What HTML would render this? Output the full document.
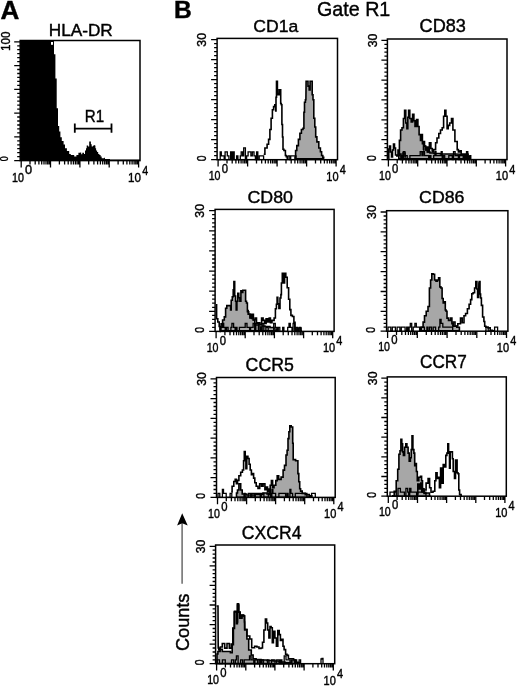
<!DOCTYPE html>
<html><head><meta charset="utf-8"><style>
html,body{margin:0;padding:0;background:#fff;width:520px;height:687px;overflow:hidden;font-family:"Liberation Sans", sans-serif;}
</style></head><body>
<svg width="520" height="687" viewBox="0 0 520 687" style="position:absolute;left:0;top:0;will-change:transform" font-family='"Liberation Sans", sans-serif'>
<rect width="520" height="687" fill="#fff"/>
<text transform="translate(0.45 18.60) scale(1.025 1)" font-size="25.44" font-weight="bold" stroke="#000" stroke-width="0.4">A</text>
<text transform="translate(173.95 18.30) scale(1.019 1)" font-size="24.13" font-weight="bold" stroke="#000" stroke-width="0.4">B</text>
<text transform="translate(317.01 15.90) scale(0.975 1)" font-size="20.20" font-weight="normal" stroke="#000" stroke-width="0.4">Gate R1</text>
<text transform="translate(48.79 36.30) scale(1.067 1)" font-size="16.13" font-weight="normal" stroke="#000" stroke-width="0.4">HLA-DR</text>
<text transform="translate(253.31 31.93) scale(1.013 1)" font-size="17.37" font-weight="normal" stroke="#000" stroke-width="0.4">CD1a</text>
<text transform="translate(419.58 32.13) scale(1.026 1)" font-size="17.66" font-weight="normal" stroke="#000" stroke-width="0.4">CD83</text>
<text transform="translate(247.39 202.53) scale(1.027 1)" font-size="17.37" font-weight="normal" stroke="#000" stroke-width="0.4">CD80</text>
<text transform="translate(419.10 203.13) scale(1.022 1)" font-size="17.37" font-weight="normal" stroke="#000" stroke-width="0.4">CD86</text>
<text transform="translate(245.60 370.93) scale(0.996 1)" font-size="17.80" font-weight="normal" stroke="#000" stroke-width="0.4">CCR5</text>
<text transform="translate(420.03 367.73) scale(0.974 1)" font-size="17.66" font-weight="normal" stroke="#000" stroke-width="0.4">CCR7</text>
<text transform="translate(241.80 538.62) scale(0.960 1)" font-size="18.36" font-weight="normal" stroke="#000" stroke-width="0.4">CXCR4</text>
<polygon points="20.2,40.5 54,40.5 54,54.3 55.4,54.3 55.4,78.6 56.7,78.6 56.7,108.3 58,108.3 58,126 59.2,126 59.2,131.6 60.4,131.6 60.4,137.2 61.8,137.2 61.8,140.9 63.6,140.9 63.6,144.6 65,144.6 65,148.3 66.9,148.3 66.9,151.1 69.2,151.1 69.2,154 70.8,154 70.8,155.1 74.2,155.1 74.2,156.6 76.4,156.6 76.4,155.1 78.4,155.1 78.4,152.8 80.2,152.8 80.2,152.4 81.2,152.4 81.2,154.3 82.3,154.3 82.3,152.8 84,152.8 84,153.9 85,153.9 85,150.5 86,150.5 86,148.2 86.7,148.2 86.7,145.5 88.1,145.5 88.1,146.6 89.2,146.6 89.2,141.6 90.9,141.6 90.9,144.3 91.7,144.3 91.7,146.6 92.9,146.6 92.9,145.8 93.8,145.8 93.8,145.1 94.6,145.1 94.6,145.5 95.4,145.5 95.4,148.2 96.1,148.2 96.1,150.5 97.1,150.5 97.1,152 98.2,152 98.2,153.9 99.4,153.9 99.4,155.1 100.6,155.1 100.6,156.6 101.7,156.6 101.7,158.2 104.2,158.2 104.2,157.8 105,157.8 105,158.9 110,158.9 110,159.4 140,159.6 140,160.6 20.2,160.6" fill="#000"/>
<rect x="51" y="42" width="2" height="2.8" fill="#fff"/>
<path d="M74.8 128.7H111.5M74.8 123.5V132.8M111.5 123.5V132.8" stroke="#000" stroke-width="1.8" fill="none"/>
<text transform="translate(84.86 122.10) scale(0.940 1)" font-size="16.13" font-weight="normal" stroke="#000" stroke-width="0.4">R1</text>
<polygon points="295,158.8 295,157 295.6,157 295.6,150.5 296.2,150.5 296.8,150.5 296.8,145.6 297.4,145.6 298.4,145.6 298.4,139.4 299.3,139.4 299.9,139.4 299.9,133.2 300.5,133.2 301.4,133.2 301.4,129.5 302.4,129.5 303,129.5 303,128.3 303.6,128.3 303.9,128.3 303.9,112.2 304.2,112.2 304.5,112.2 304.5,102.2 304.9,102.2 305.4,102.2 305.4,99.8 305.9,99.8 306.1,81.2 307.3,81.2 308,81.2 308,86.1 308.6,86.1 309.2,86.1 309.2,89.9 309.8,89.9 310.1,89.9 310.1,81.2 310.4,81.2 312,81.2 312.2,81.2 312.2,94.8 312.5,94.8 313,94.8 313,99.8 313.5,99.8 313.8,99.8 313.8,118.3 314.1,118.3 314.8,118.3 314.8,127 315.4,127 315.7,127 315.7,136.9 316,136.9 316.9,136.9 316.9,141.9 317.9,141.9 318.8,141.9 318.8,148 319.7,148 320.4,148 320.4,151.8 321,151.8 321.6,151.8 321.6,155.5 322.2,155.5 322.8,155.5 322.8,157.4 323.4,157.4 323.7,157.4 323.7,158.8 324,158.8" fill="#a7a7a7" stroke="#000" stroke-width="1.6" stroke-linejoin="miter"/>
<polyline points="263.7,154.3 264.9,154.3 264.9,148 266.1,148 267.1,148 267.1,144.3 268,144.3 268.6,144.3 268.6,139.4 269.2,139.4 269.9,139.4 269.9,129.5 270.5,129.5 271.1,129.5 271.1,118.3 271.7,118.3 272.4,118.3 272.4,109.7 273,109.7 273.6,109.7 273.6,106.6 274.2,106.6 274.8,106.6 274.8,104.7 275.4,104.7 275.7,104.7 275.7,111 276,111 276,97.3 276.5,97.3 276.5,81.2 277,81.2 277.4,81.2 277.4,93.6 277.7,93.6 278.1,93.6 278.1,94.8 278.5,94.8 279.1,94.8 279.1,89.9 279.8,89.9 280.4,89.9 280.7,89.9 280.7,103.5 281,103.5 281.3,103.5 281.3,104.7 281.6,104.7 281.9,104.7 281.9,124.5 282.2,124.5 282.5,124.5 282.5,137 282.9,137 283,137 283,149.3 283.2,149.3 283.9,149.3 283.9,150.5 284.7,150.5 285.4,150.5 285.4,155.5 286,155.5 286.3,155.5 286.3,156.7 286.6,156.7 287.3,156.7 287.3,158.8 288,158.8" fill="none" stroke="#000" stroke-width="1.6"/>
<polyline points="218.5,159.7 218.5,159.7 220.2,159.7 220.2,151.8 221.3,151.8 221.3,155.8 222.6,155.8 222.6,155.8 224.2,155.8 224.2,159.7 225.1,159.7 225.1,151.8 226.4,151.8 226.4,151.8 227.3,151.8 227.3,155.8 228.9,155.8 228.9,159.7 230.6,159.7 230.6,151.8 231.6,151.8 231.6,159.7 232.9,159.7 232.9,151.8 234.2,151.8 234.2,159.7 235.5,159.7 235.5,159.7 236.6,159.7 236.6,155.8 237.9,155.8 237.9,159.7 239,159.7 239,159.7 240.3,159.7 240.3,155.8 241.2,155.8 241.2,151.8 242.6,151.8 242.6,155.8 243.7,155.8 243.7,147.8 245.4,147.8 245.4,159.7 246.6,159.7 246.6,155.8 248.1,155.8 248.1,151.8 249.4,151.8 249.4,151.8 250.9,151.8 250.9,155.8 252.3,155.8 252.3,151.8 254,151.8 254,155.8 255.4,155.8 255.4,159.7 256.6,159.7 256.6,151.8 257.8,151.8 257.8,159.7 259.2,159.7 259.2,155.8 260.7,155.8 260.7,155.8 262,155.8 262,155.8 263.6,155.8 263.6,159.7" fill="none" stroke="#000" stroke-width="1.3"/>
<polyline points="288,159.7 288,155.8 289.8,155.8 289.8,159.7 290.7,159.7 290.7,155.8 292.3,155.8 292.3,155.8 293.5,155.8 293.5,155.8 294.9,155.8 294.9,155.8 296,155.8 296,159.7" fill="none" stroke="#000" stroke-width="1.3"/>
<polyline points="323.5,159.7 323.5,159.7 324.9,159.7 324.9,159.7 326.3,159.7 326.3,159.7 327.3,159.7 327.3,159.7 328.9,159.7 328.9,159.7 330.1,159.7 330.1,159.7" fill="none" stroke="#000" stroke-width="1.3"/>
<polygon points="398.8,158.8 398.8,155.4 399.4,155.4 399.4,140.4 400,140.4 400.6,140.4 400.6,130 401.2,130 402,130 402,127.7 402.9,127.7 403.4,127.7 403.4,118.5 404,118.5 404.6,118.5 404.6,110.4 405.2,110.4 405.8,110.4 405.8,123 406.3,123 406.9,123 406.9,128.8 407.5,128.8 407.8,128.8 407.8,117.3 408,117.3 408.6,117.3 408.6,110.4 409.2,110.4 409.8,110.4 409.8,118.5 410.4,118.5 411.2,118.5 411.2,121.9 412,121.9 412.6,121.9 412.6,114.4 413.3,114.4 413.9,114.4 413.9,120.8 414.4,120.8 415,120.8 415,126.5 415.6,126.5 416.5,126.5 416.5,119.6 417.3,119.6 417.9,119.6 417.9,126.5 418.5,126.5 419.1,126.5 419.1,134.6 419.6,134.6 420.5,134.6 420.5,140.4 421.3,140.4 421.6,140.4 421.6,134.6 421.9,134.6 422.4,134.6 422.4,143.8 423,143.8 423.9,143.8 423.9,146.2 424.8,146.2 425.6,146.2 425.6,149.6 426.5,149.6 427.2,149.6 427.2,152 428,152 430,152 430,153 432,153 434,153 434,153.5 436,153.5 440.5,153.5 440.5,154 445,154 455,154 461,154.2 467.3,154.2 467.9,154.2 467.9,156.5 468.5,156.5 469.1,156.5 469.1,158.8 469.6,158.8" fill="#a7a7a7" stroke="#000" stroke-width="1.6" stroke-linejoin="miter"/>
<polyline points="388.5,158.8 388.8,158.8 388.8,149 389,149 389.5,149 389.5,146 390,146 390.5,146 390.5,152 391,152 391.5,152 391.5,157 392,157 392.5,157 392.5,150 393,150 393.5,150 393.5,144 394,144 394.5,144 394.5,148 395,148 395.5,148 395.5,155 396,155 396.8,155 396.8,156 397.5,156 398,156 398,150 398.5,150 399.2,150 399.2,154 400,154 401,154 401,157 402,157 403,157 403,153 404,153 405,153 405,157 406,157" fill="none" stroke="#000" stroke-width="1.6"/>
<polyline points="423,150 423.5,150 423.5,141.5 424,141.5 424.5,141.5 424.5,146 425,146 425.5,146 425.5,150 426,150 426.8,150 426.8,147 427.5,147 428,147 428,152 428.5,152 429.4,152 429.4,142.7 430.4,142.7 430.9,142.7 430.9,148.5 431.5,148.5 432.2,148.5 432.2,152 433,152 433.5,152 433.5,149.6 434,149.6 435,149.6 435.6,149.6 435.6,142.7 436.2,142.7 437,142.7 437,138 437.9,138 438.8,138 438.8,133.5 439.6,133.5 440.5,133.5 440.5,130 441.3,130 442.2,130 442.2,127.7 443.1,127.7 443.6,127.7 443.6,116.2 444.2,116.2 444.8,116.2 444.8,110.4 445.4,110.4 445.9,110.4 445.9,116.2 446.5,116.2 447.1,116.2 447.1,128.8 447.7,128.8 448.2,128.8 448.2,125.4 448.8,125.4 449.7,125.4 449.7,123 450.6,123 451.5,123 451.5,118.5 452.3,118.5 452.9,118.5 452.9,130 453.5,130 454.6,130 454.9,130 454.9,141.5 455.2,141.5 456.9,141.5 457.2,141.5 457.2,149.6 457.5,149.6 458.4,149.6 458.4,151.9 459.2,151.9 460.1,151.9 460.1,150.8 461,150.8 461.2,150.8 461.2,154.2 461.5,154.2 467.3,154.2 467.9,154.2 467.9,156.5 468.5,156.5 469.1,156.5 469.1,159.6 469.6,159.6" fill="none" stroke="#000" stroke-width="1.6"/>
<polyline points="400,159.6 400,159.6 401,159.6 401,155.7 402,155.7 402,159.6 403.3,159.6 403.3,151.7 404.9,151.7 404.9,155.7 406,155.7 406,155.7 407.2,155.7 407.2,159.6 408.2,159.6 408.2,159.6 409.9,159.6 409.9,155.7 411.5,155.7 411.5,155.7 412.6,155.7 412.6,155.7 414.1,155.7 414.1,155.7 415.7,155.7 415.7,155.7 416.7,155.7 416.7,155.7 418.2,155.7 418.2,155.7 419.3,155.7 419.3,155.7 420.2,155.7 420.2,151.7 421.9,151.7 421.9,155.7 423.1,155.7 423.1,151.7 424.5,151.7 424.5,155.7 426.2,155.7 426.2,155.7 427.4,155.7 427.4,155.7 428.7,155.7 428.7,159.6 429.9,159.6 429.9,155.7 430.9,155.7 430.9,159.6 432.3,159.6 432.3,159.6 433.7,159.6 433.7,155.7 434.9,155.7 434.9,151.7 436,151.7 436,155.7 437.1,155.7 437.1,155.7 438.2,155.7 438.2,155.7 439.8,155.7 439.8,155.7 441.2,155.7 441.2,151.7 442.2,151.7 442.2,159.6 443.3,159.6 443.3,155.7 444.7,155.7 444.7,159.6 445.9,159.6 445.9,159.6 447.2,159.6 447.2,159.6 448.8,159.6 448.8,155.7 450.5,155.7 450.5,155.7 452.3,155.7 452.3,159.6 453.5,159.6 453.5,151.7 455.1,151.7 455.1,155.7 456.8,155.7 456.8,155.7 458.4,155.7 458.4,159.6 459.5,159.6 459.5,155.7 460.5,155.7 460.5,155.7 462.3,155.7 462.3,155.7 463.2,155.7 463.2,159.6 464.3,159.6 464.3,155.7 465.5,155.7 465.5,159.6 466.5,159.6 466.5,151.7 467.8,151.7 467.8,159.6 468.7,159.6 468.7,159.6 469.8,159.6 469.8,155.7 470.8,155.7 470.8,159.6" fill="none" stroke="#000" stroke-width="1.3"/>
<polygon points="219.5,330.8 220,330.8 220,327 220.5,327 221.1,327 221.1,323.9 221.6,323.9 222.6,323.9 222.6,320 223.5,320 224.3,320 224.3,316.9 225.1,316.9 225.6,316.9 225.6,308.2 226,308.2 226.8,308.2 226.8,305.6 227.7,305.6 230.3,305.6 230.6,305.6 230.6,310 230.8,310 231.2,310 231.2,300.3 231.7,300.3 232.3,300.3 232.3,296.8 233,296.8 233.2,296.8 233.2,289.8 233.4,289.8 233.9,289.8 233.9,281.6 234.3,281.6 234.7,281.6 234.7,296 235.1,296 235.6,296 235.6,301.2 236,301.2 236.2,301.2 236.2,310 236.5,310 236.9,310 236.9,301.2 237.3,301.2 237.8,301.2 237.8,293.3 238.2,293.3 238.8,293.3 238.8,297.7 239.5,297.7 239.9,297.7 239.9,301.2 240.4,301.2 240.9,301.2 240.9,290.7 241.3,290.7 241.7,290.7 241.7,292.5 242.1,292.5 242.8,292.5 242.8,290.3 243.4,290.3 245.2,290.3 245.6,290.3 245.6,301.2 246.1,301.2 246.5,301.2 246.5,303 246.9,303 247.4,303 247.4,311.7 247.8,311.7 248.7,311.7 248.7,314.3 249.6,314.3 250.2,314.3 250.2,317.8 250.9,317.8 251.7,317.8 251.7,318.5 252.5,318.5 253.2,318.5 253.2,320 254,320 254.8,320 254.8,325 255.5,325 258.8,325 258.8,326 262,326 265,326 265,326.5 268,326.5 270,326.5 270,327.5 272,327.5 274,327.5 274,329 276,329 277,329 277,330.8 278,330.8" fill="#a7a7a7" stroke="#000" stroke-width="1.6" stroke-linejoin="miter"/>
<polyline points="216,304.7 216.6,304.7 216.6,318.7 217.2,318.7 217.8,318.7 217.8,322 218.5,322 219.2,322 219.2,326.5 219.8,326.5 220.4,326.5 220.4,331.4 221,331.4" fill="none" stroke="#000" stroke-width="1.6"/>
<polyline points="247.2,310.5 248.2,310.5 248.2,314.2 249.2,314.2 250,314.2 250,318 250.8,318 251.8,318 251.8,314.2 252.7,314.2 253.4,314.2 253.4,319.6 254.2,319.6 255.2,319.6 255.2,318 256.2,318 256.5,318 256.5,323.5 256.9,323.5 257.9,323.5 257.9,322.7 258.8,322.7 259.8,322.7 259.8,324.2 260.8,324.2 261.6,324.2 261.6,318 262.3,318 263.1,318 263.1,320.4 263.8,320.4 264.6,320.4 264.6,323.5 265.4,323.5 266.1,323.5 266.1,318.8 266.9,318.8 267.7,318.8 267.7,321.9 268.5,321.9 269.2,321.9 269.2,318 270,318 270.4,318 270.4,322.7 270.8,322.7 272,322.7 272,320.4 273.1,320.4 274.1,320.4 274.1,318 275,318 275.4,318 275.4,308.8 275.8,308.8 276.4,308.8 276.4,304.2 276.9,304.2 277.1,304.2 277.1,297.3 277.3,297.3 277.8,297.3 277.8,303.8 278.3,303.8 278.9,303.8 278.9,308.5 279.4,308.5 280,308.5 280,298 280.6,298 280.9,298 280.9,294.6 281.2,294.6 281.4,294.6 281.4,283 281.7,283 282.3,283 282.3,273.3 282.9,273.3 283.4,273.3 283.4,283 284,283 284.6,283 284.6,273.3 285.2,273.3 285.8,273.3 285.8,277.3 286.3,277.3 287.2,277.3 287.2,287.7 288.1,287.7 288.6,287.7 288.6,299.2 289.2,299.2 289.8,299.2 289.8,309.6 290.4,309.6 290.9,309.6 290.9,315.4 291.5,315.4 292.4,315.4 292.4,316.5 293.3,316.5 293.9,316.5 293.9,322.3 294.4,322.3 295,322.3 295,328 295.6,328 296.1,328 296.1,330.4 296.7,330.4 298.4,330.4 298.4,328 300,328 301,328 301,330.8 302,330.8" fill="none" stroke="#000" stroke-width="1.6"/>
<polyline points="221,331.4 221,327.4 222.4,327.4 222.4,323.5 223.7,323.5 223.7,327.4 225.2,327.4 225.2,331.4 226.5,331.4 226.5,327.4 228.1,327.4 228.1,331.4 229.3,331.4 229.3,331.4 230.9,331.4 230.9,327.4 231.9,327.4 231.9,323.5 233.6,323.5 233.6,327.4 235.1,327.4 235.1,331.4 236,331.4 236,327.4 237,327.4 237,331.4 238.1,331.4 238.1,331.4 239.4,331.4 239.4,327.4 241,327.4 241,327.4 242.5,327.4 242.5,327.4 244,327.4 244,327.4 245.2,327.4 245.2,323.5 247,323.5 247,327.4 248.5,327.4 248.5,327.4 249.6,327.4 249.6,331.4 250.6,331.4 250.6,327.4 251.8,327.4 251.8,327.4 253.1,327.4 253.1,323.5 254.7,323.5 254.7,331.4 255.8,331.4 255.8,323.5 257.2,323.5 257.2,323.5 258.4,323.5 258.4,331.4 259.9,331.4 259.9,327.4 261,327.4 261,331.4 262.2,331.4 262.2,323.5 263.8,323.5 263.8,331.4 264.9,331.4 264.9,331.4 265.9,331.4 265.9,327.4 266.9,327.4 266.9,327.4 268.2,327.4 268.2,331.4 269.8,331.4 269.8,331.4 271.3,331.4 271.3,331.4 272.6,331.4 272.6,331.4 273.7,331.4 273.7,323.5 275.3,323.5 275.3,327.4 277,327.4 277,331.4 278.3,331.4 278.3,327.4 279.8,327.4 279.8,331.4 281.5,331.4 281.5,331.4 282.7,331.4 282.7,327.4 283.9,327.4 283.9,331.4 284.8,331.4 284.8,331.4 286.3,331.4 286.3,331.4 287.7,331.4 287.7,327.4 289,327.4 289,323.5 290.3,323.5 290.3,327.4 292,327.4 292,331.4 293.1,331.4 293.1,323.5 294.7,323.5 294.7,331.4 295.8,331.4 295.8,327.4 297.5,327.4 297.5,331.4 299.3,331.4 299.3,327.4 300.7,327.4 300.7,331.4" fill="none" stroke="#000" stroke-width="1.3"/>
<polygon points="420,330.8 421.2,330.8 421.2,327.3 422.5,327.3 423.1,327.3 423.1,322.1 423.7,322.1 424.5,322.1 424.5,315.8 425.4,315.8 426.2,315.8 426.2,311.2 427.1,311.2 428,311.2 428,306.5 428.8,306.5 429.4,306.5 429.4,288 430,288 430.6,288 430.6,280 431.2,280 431.8,280 431.8,273.7 432.3,273.7 433.1,273.7 433.1,274.2 434,274.2 434.6,274.2 434.6,280 435.2,280 436,280 436,281.2 436.9,281.2 437.5,281.2 437.5,280 438.1,280 438.6,280 438.6,277.7 439.2,277.7 439.8,277.7 439.8,286.9 440.4,286.9 440.9,286.9 440.9,288 441.5,288 442.1,288 442.1,298.5 442.7,298.5 443.2,298.5 443.2,303 443.8,303 444.4,303 444.4,301.9 445,301.9 445.3,301.9 445.3,310 445.6,310 446.1,310 446.1,311.2 446.7,311.2 447,311.2 447,318.1 447.3,318.1 448.5,318.1 448.5,320.4 449.6,320.4 450.5,320.4 450.5,318.1 451.3,318.1 451.9,318.1 451.9,323.8 452.5,323.8 453.6,323.8 453.6,326.2 454.8,326.2 456.8,326.2 456.8,327.3 458.8,327.3 459.4,327.3 459.4,330.8 460,330.8" fill="#a7a7a7" stroke="#000" stroke-width="1.6" stroke-linejoin="miter"/>
<polyline points="452,326 453,326 453,322 454,322 455,322 455,326 456,326 457.8,326 457.8,323.8 459.6,323.8 460.5,323.8 460.5,318 461.3,318 462.2,318 462.2,322.7 463.1,322.7 464,322.7 464,315.8 464.8,315.8 465.6,315.8 465.6,313.5 466.5,313.5 467.4,313.5 467.4,308.8 468.3,308.8 469.1,308.8 469.1,304.2 470,304.2 470.6,304.2 470.6,299.6 471.2,299.6 471.8,299.6 471.8,293.8 472.3,293.8 473.1,293.8 473.1,292.7 474,292.7 474.6,292.7 474.6,288 475.2,288 475.8,288 475.8,281.5 476.4,281.5 476.9,281.5 476.9,289 477.5,289 477.6,289 477.6,297.5 477.8,297.5 478.6,297.5 478.9,283 479.2,283 479.2,281.5 479.6,281.5 480,281.5 480,294 480.4,294 480.6,294 480.6,298 480.9,298 481.4,298 481.4,305.4 481.8,305.4 482.6,305.4 482.6,317 483.4,317 483.9,317 483.9,321.5 484.4,321.5 484.7,321.5 484.7,326.2 485,326.2 485.9,326.2 485.9,327.3 486.7,327.3 488.1,327.3 488.1,327.9 489.6,327.9 490.2,327.9 490.2,330.2 490.8,330.2 492.4,330.2 492.4,330.8 494,330.8" fill="none" stroke="#000" stroke-width="1.6"/>
<polyline points="388,331.2 388,327.2 389.6,327.2 389.6,327.2 390.8,327.2 390.8,331.2 392.3,331.2 392.3,327.2 393.9,327.2 393.9,327.2 395.4,327.2 395.4,331.2 397.1,331.2 397.1,327.2 398.3,327.2 398.3,327.2 399.9,327.2 399.9,331.2 401.3,331.2 401.3,327.2 402.4,327.2 402.4,327.2 403.9,327.2 403.9,327.2 405.1,327.2 405.1,331.2 406.7,331.2 406.7,327.2 408,327.2 408,331.2 409.1,331.2 409.1,327.2 410.3,327.2 410.3,323.3 411.7,323.3 411.7,331.2 413.2,331.2 413.2,327.2 414.9,327.2 414.9,323.3 416.3,323.3 416.3,327.2 417.8,327.2 417.8,327.2 419.6,327.2 419.6,331.2 420.8,331.2 420.8,327.2 422,327.2 422,327.2 423,327.2 423,327.2 424.4,327.2 424.4,331.2 425.9,331.2 425.9,331.2 426.9,331.2 426.9,327.2 428,327.2 428,331.2 429.6,331.2 429.6,327.2 430.5,327.2 430.5,327.2 431.5,327.2 431.5,331.2 433.2,331.2 433.2,327.2 434.3,327.2 434.3,327.2 435.6,327.2 435.6,331.2 437.4,331.2 437.4,331.2 438.7,331.2 438.7,327.2 439.9,327.2 439.9,319.3 441.1,319.3 441.1,323.3 442.8,323.3 442.8,327.2 444.5,327.2 444.5,327.2 446.1,327.2 446.1,327.2 447.5,327.2 447.5,327.2 449,327.2 449,327.2 450,327.2 450,327.2 451.1,327.2 451.1,327.2 452.7,327.2 452.7,331.2" fill="none" stroke="#000" stroke-width="1.3"/>
<polyline points="485,331.2 485,331.2 486,331.2 486,327.2 487,327.2 487,327.2 488.2,327.2 488.2,331.2 489.6,331.2 489.6,331.2 490.9,331.2 490.9,331.2 491.9,331.2 491.9,331.2 493.5,331.2 493.5,331.2 494.6,331.2 494.6,327.2 496.4,327.2 496.4,327.2 497.6,327.2 497.6,331.2" fill="none" stroke="#000" stroke-width="1.3"/>
<polygon points="236,497.2 236.5,497.2 236.5,493 237,493 237.5,493 237.5,490 238,490 238.9,490 238.9,483.8 239.8,483.8 240.7,483.8 240.7,490 241.5,490 242.2,490 242.2,494 243,494 246.5,494 246.5,495 250,495 255,495 255,494.5 260,494.5 263,494.5 263,493 266,493 267,493 267,494 268,494 268.9,494 268.9,494.6 269.7,494.6 270.2,494.6 270.2,485.2 270.8,485.2 271.4,485.2 271.4,480.6 272,480.6 272.6,480.6 272.6,487.6 273.2,487.6 274,487.6 274,485.2 274.9,485.2 275.8,485.2 275.8,480.6 276.7,480.6 277.2,480.6 277.2,475.9 277.8,475.9 278.7,475.9 278.7,479.4 279.6,479.4 281.1,479.4 281.1,477.1 282.5,477.1 283.1,477.1 283.1,470.1 283.6,470.1 284.5,470.1 284.5,465.4 285.4,465.4 286,465.4 286,455 286.6,455 287.1,455 287.1,450.3 287.7,450.3 288,450.3 288,438.6 288.3,438.6 288.9,438.6 288.9,431.7 289.5,431.7 289.8,431.7 289.8,425.8 290,425.8 291.2,425.8 291.2,427 292.4,427 292.7,427 292.7,443.3 293,443.3 293.2,443.3 293.2,459.6 293.5,459.6 295.6,459.6 295.6,460.8 297.6,460.8 297.9,460.8 297.9,473.6 298.2,473.6 298.8,473.6 298.8,481.7 299.4,481.7 299.7,481.7 299.7,488.7 300,488.7 300.6,488.7 300.6,491.1 301.1,491.1 302.2,491.1 302.2,493.4 303.4,493.4 305.2,493.4 305.2,494.6 307,494.6 309.3,494.6 309.3,495.7 311.6,495.7 311.8,495.7 311.8,497.2 312,497.2" fill="#a7a7a7" stroke="#000" stroke-width="1.6" stroke-linejoin="miter"/>
<polyline points="231.2,491.9 232.1,491.9 232.1,486.2 232.9,486.2 233.8,486.2 233.8,481.5 234.6,481.5 235.2,481.5 235.2,479.2 235.8,479.2 236.4,479.2 236.4,483.8 236.9,483.8 237.5,483.8 237.5,480.4 238.1,480.4 238.9,480.4 238.9,475.8 239.8,475.8 240.7,475.8 240.7,472.3 241.5,472.3 242.4,472.3 242.4,470 243.3,470 243.6,470 243.6,460.8 243.8,460.8 244.3,460.8 244.3,451.5 244.8,451.5 245.2,451.5 245.2,459.6 245.6,459.6 245.9,459.6 245.9,468.8 246.2,468.8 246.8,468.8 246.8,456.2 247.3,456.2 247.9,456.2 247.9,458.5 248.5,458.5 249.1,458.5 249.1,464.2 249.6,464.2 250.2,464.2 250.2,470 250.8,470 251.4,470 251.4,474.6 251.9,474.6 252.5,474.6 252.5,473.5 253.1,473.5 253.6,473.5 253.6,478.1 254.2,478.1 254.8,478.1 254.8,482.7 255.4,482.7 256.2,482.7 256.2,486.2 257.1,486.2 258,486.2 258,488.5 258.8,488.5 259.7,488.5 259.7,483.8 260.6,483.8 261.5,483.8 261.5,486.2 262.3,486.2 263.1,486.2 263.1,483.8 264,483.8 264.9,483.8 264.9,489.6 265.8,489.6 266.4,489.6 266.4,487 267,487 267.5,487 267.5,492 268,492 268.8,492 268.8,489 269.5,489 270.2,489 270.2,494 271,494" fill="none" stroke="#000" stroke-width="1.6"/>
<polyline points="218,497.4 218,493.4 219.8,493.4 219.8,497.4 221.3,497.4 221.3,497.4 222.4,497.4 222.4,489.5 223.5,489.5 223.5,493.4 224.8,493.4 224.8,493.4 226.2,493.4 226.2,497.4 227.8,497.4 227.8,497.4 228.9,497.4 228.9,497.4 230.1,497.4 230.1,493.4 231.8,493.4 231.8,497.4" fill="none" stroke="#000" stroke-width="1.3"/>
<polyline points="244,497.4 244,493.4 245.2,493.4 245.2,497.4 246.9,497.4 246.9,497.4 248.3,497.4 248.3,493.4 249.2,493.4 249.2,493.4 250.7,493.4 250.7,497.4 251.9,497.4 251.9,493.4 253.2,493.4 253.2,493.4 254.3,493.4 254.3,497.4 255.3,497.4 255.3,493.4 257,493.4 257,493.4 258.6,493.4 258.6,493.4 260.2,493.4 260.2,497.4 261.3,497.4 261.3,493.4 262.9,493.4 262.9,493.4 263.9,493.4 263.9,497.4 265,497.4 265,497.4 266.6,497.4 266.6,497.4 268.3,497.4 268.3,493.4 269.2,493.4 269.2,493.4 270.6,493.4 270.6,497.4 271.9,497.4 271.9,489.5 272.9,489.5 272.9,493.4 273.9,493.4 273.9,493.4 275.6,493.4 275.6,497.4 276.5,497.4 276.5,497.4 277.9,497.4 277.9,497.4 278.9,497.4 278.9,493.4 280.6,493.4 280.6,493.4 281.8,493.4 281.8,493.4 282.8,493.4 282.8,493.4 283.9,493.4 283.9,493.4 285.6,493.4 285.6,497.4 287,497.4 287,493.4 288.1,493.4 288.1,497.4 289.9,497.4 289.9,489.5 290.9,489.5 290.9,493.4 292.6,493.4 292.6,497.4 294.1,497.4 294.1,497.4 295.3,497.4 295.3,493.4 296.7,493.4 296.7,493.4 297.7,493.4 297.7,493.4 299.4,493.4 299.4,493.4 300.7,493.4 300.7,493.4 302.5,493.4 302.5,493.4 303.4,493.4 303.4,493.4 304.6,493.4 304.6,493.4 305.7,493.4 305.7,493.4 306.9,493.4 306.9,497.4 308.4,497.4 308.4,497.4 310,497.4 310,497.4 311.6,497.4 311.6,493.4 312.9,493.4 312.9,493.4 314,493.4 314,493.4 315.3,493.4 315.3,497.4" fill="none" stroke="#000" stroke-width="1.3"/>
<polygon points="392,496.2 392.6,496.2 392.6,495.8 393.1,495.8 394.2,495.8 394.2,491.2 395.4,491.2 396.2,491.2 396.2,480.8 397.1,480.8 397.7,480.8 397.7,469.2 398.3,469.2 398.9,469.2 398.9,454.2 399.4,454.2 400,454.2 400,450.8 400.6,450.8 400.9,450.8 400.9,439.2 401.2,439.2 401.8,439.2 401.8,443.8 402.3,443.8 402.6,443.8 402.6,451.9 402.9,451.9 403.4,451.9 403.4,455.4 404,455.4 404.6,455.4 404.6,447.3 405.2,447.3 405.8,447.3 405.8,443.8 406.3,443.8 406.9,443.8 406.9,447.3 407.5,447.3 408.1,447.3 408.1,453.1 408.7,453.1 409.2,453.1 409.2,461.2 409.8,461.2 410.4,461.2 410.4,457.7 411,457.7 411.2,457.7 411.2,449.6 411.5,449.6 412,449.6 412,435.8 412.5,435.8 412.9,435.8 412.9,449.6 413.3,449.6 413.9,449.6 413.9,453.1 414.4,453.1 414.7,453.1 414.7,465.8 415,465.8 415.6,465.8 415.6,463.5 416.2,463.5 416.4,463.5 416.4,471.5 416.7,471.5 417.3,471.5 417.3,480.8 417.9,480.8 418.8,480.8 418.8,477.3 419.6,477.3 420.5,477.3 420.5,476.2 421.3,476.2 421.6,476.2 421.6,480.8 421.9,480.8 422.5,480.8 422.5,488.8 423.1,488.8 424,488.8 424,493.5 424.8,493.5 426.4,493.5 426.4,493 428,493 429.5,493 429.5,496.2 431,496.2" fill="#a7a7a7" stroke="#000" stroke-width="1.6" stroke-linejoin="miter"/>
<polyline points="417,494 417.8,494 417.8,484 418.5,484 419.2,484 419.2,489 420,489 420.8,489 420.8,483 421.5,483 422.2,483 422.2,492 423,492 424,492 424,490 425,490 426.1,490 426.1,483.1 427.3,483.1 428.1,483.1 428.1,478.5 429,478.5 429.6,478.5 429.6,487.7 430.2,487.7 431,487.7 431,492.3 431.9,492.3 433,492.3 433,491.2 434.2,491.2 434.8,491.2 434.8,480.8 435.4,480.8 435.9,480.8 435.9,472.7 436.5,472.7 437.1,472.7 437.1,478.5 437.7,478.5 438.2,478.5 438.2,477.3 438.8,477.3 439.4,477.3 439.4,487.7 440,487.7 440.6,487.7 440.6,468.1 441.2,468.1 442,468.1 442,483.1 442.9,483.1 443.2,483.1 443.2,464.6 443.5,464.6 444.4,464.6 444.4,466.9 445.2,466.9 445.8,466.9 445.8,455.4 446.3,455.4 446.9,455.4 446.9,453.1 447.5,453.1 447.8,453.1 447.8,443.8 448.1,443.8 448.6,443.8 448.6,453.1 449.2,453.1 449.5,453.1 449.5,468.1 449.8,468.1 450.2,468.1 450.2,451.9 450.6,451.9 452.1,451.9 452.4,451.9 452.4,458.8 452.7,458.8 453.2,458.8 453.2,471.5 453.8,471.5 454.5,471.5 454.5,478.5 455.2,478.5 455.5,478.5 455.5,460 455.9,460 456.7,460 457.1,460 457.1,472.7 457.5,472.7 458,472.7 458,473.8 458.5,473.8 458.8,473.8 458.8,490 459,490 459.6,490 459.6,494.6 460.2,494.6 461.1,494.6 461.1,496.2 462,496.2" fill="none" stroke="#000" stroke-width="1.6"/>
<polyline points="390,496.2 390,492.2 391.3,492.2 391.3,492.2 392.4,492.2 392.4,492.2 394,492.2 394,492.2 395.1,492.2 395.1,492.2 396.3,492.2 396.3,496.2 398,496.2 398,488.3 398.9,488.3 398.9,488.3 400.4,488.3 400.4,492.2 401.5,492.2 401.5,492.2 402.9,492.2 402.9,492.2 404.4,492.2 404.4,496.2 405.9,496.2 405.9,488.3 407.7,488.3 407.7,492.2 408.7,492.2 408.7,496.2 409.7,496.2 409.7,488.3 410.9,488.3 410.9,492.2 412.6,492.2 412.6,492.2 414,492.2 414,492.2 414.9,492.2 414.9,492.2 416.6,492.2 416.6,496.2 417.7,496.2 417.7,492.2 418.6,492.2 418.6,492.2 420.2,492.2 420.2,492.2 421.6,492.2 421.6,488.3 422.7,488.3 422.7,492.2 423.9,492.2 423.9,492.2 424.9,492.2 424.9,492.2 425.9,492.2 425.9,496.2" fill="none" stroke="#000" stroke-width="1.3"/>
<polygon points="217,663.5 217,654 217.9,654 217.9,651.5 218.9,651.5 220.1,651.5 220.1,649.2 221.2,649.2 222.3,649.2 222.3,651.5 223.5,651.5 229.3,651.5 230.4,651.5 230.4,652.7 231.6,652.7 232.2,652.7 232.2,644.6 232.8,644.6 233.4,644.6 233.4,628.5 233.9,628.5 234.5,628.5 234.5,611.2 235.1,611.2 236.2,611.2 236.5,611.2 236.5,623.8 236.8,623.8 237.4,623.8 237.4,603.7 238,603.7 238.6,603.7 238.6,612.3 239.1,612.3 239.7,612.3 239.7,618.1 240.3,618.1 241.4,618.1 242,618.1 242,615.2 242.6,615.2 243.4,615.2 243.4,615.8 244.3,615.8 244.5,615.8 244.5,622 244.7,622 244.7,629.6 246.9,629.6 246.9,639 248.7,639 248.7,650 250.6,650 251.3,650 251.3,655 252,655 253.1,655 253.1,658.7 254.2,658.7 256.1,658.7 256.1,659.5 258,659.5 261,659.5 261,660 264,660 267,660 267,660.5 270,660.5 273,660.5 273,661 276,661 279,661 279,662 282,662 285,662 285,662.5 288,662.5 290,662.5 290,663.7 292,663.7" fill="#a7a7a7" stroke="#000" stroke-width="1.6" stroke-linejoin="miter"/>
<polyline points="216.5,606 218,606 218.2,648 218.8,648 218.8,650 219.5,650 220.3,650 220.3,647 221.2,647 222.3,647 222.3,643.5 223.5,643.5 224.7,643.5 224.7,648.1 225.8,648.1 227,648.1 227,643.5 228.2,643.5 229.3,643.5 229.3,648.1 230.5,648.1 231.2,648.1 231.2,644 232,644 232.8,644 232.8,628 233.5,628 234.2,628 234.2,612 235,612 236.5,612 236.8,612 236.8,622 237,622 237.5,622 237.5,605 238,605 238.8,605 238.8,612 239.5,612 240.2,612 240.2,617 241,617 241.8,617 241.8,615 242.6,615 243.6,615 243.6,616 244.5,616 244.7,629.6 246.9,629.6 246.9,636 249,636 249.8,636 249.8,639 250.5,639 251.7,639 251.7,647.8 253.5,647.8 254.6,647.8 254.6,646.3 255.7,646.3 256.9,646.3 256.9,647 258,647 259,647 259,648.5 260,648.5 261,648.5 261,648 262,648 262.5,648 262.5,642.3 263,642.3 263.9,642.3 263.9,630 264.8,630 265.4,630 265.4,619 266,619 266.6,619 266.6,623 267.1,623 267.7,623 267.7,630 268.3,630 268.9,630 268.9,638 269.4,638 270,638 270,626.5 270.6,626.5 271.1,626.5 271.1,627.7 271.7,627.7 272.3,627.7 272.3,642.7 272.9,642.7 273.4,642.7 273.4,631.2 274,631.2 274.9,631.2 274.9,638 275.8,638 276.4,638 276.4,646.2 276.9,646.2 277.8,646.2 277.8,630.6 278.7,630.6 279.2,630.6 279.2,634.6 279.8,634.6 280.4,634.6 280.4,640.4 281,640.4 281.9,640.4 281.9,639.2 282.7,639.2 283,639.2 283,646.2 283.3,646.2 284.1,646.2 284.1,649.6 285,649.6 285.6,649.6 285.6,654.2 286.2,654.2 287,654.2 287,655.4 287.9,655.4 288.4,655.4 288.4,658.8 289,658.8 291.9,658.8 293.6,658.8 293.6,660 295.4,660 296.5,660 296.5,662.3 297.7,662.3 298.9,662.3 298.9,663 300,663" fill="none" stroke="#000" stroke-width="1.6"/>
<polyline points="217,663.7 217,659.8 218.5,659.8 218.5,659.8 219.5,659.8 219.5,663.7 220.8,663.7 220.8,663.7 222.4,663.7 222.4,659.8 223.8,659.8 223.8,659.8 225.3,659.8 225.3,663.7 226.6,663.7 226.6,663.7 228.3,663.7 228.3,663.7 230,663.7 230,663.7 231.5,663.7 231.5,659.8 232.8,659.8 232.8,659.8 233.7,659.8 233.7,663.7 235.4,663.7 235.4,659.8 236.4,659.8 236.4,655.8 238.1,655.8 238.1,663.7 239.4,663.7 239.4,663.7 240.6,663.7 240.6,659.8 241.6,659.8 241.6,659.8 242.6,659.8 242.6,663.7 244.2,663.7 244.2,659.8 245.5,659.8 245.5,659.8 246.8,659.8 246.8,659.8 247.8,659.8 247.8,659.8 249.5,659.8 249.5,655.8 251,655.8 251,659.8 252.2,659.8 252.2,659.8 253.8,659.8 253.8,663.7 254.9,663.7 254.9,659.8 256.2,659.8 256.2,659.8 257.6,659.8 257.6,663.7 259.2,663.7 259.2,659.8 260.6,659.8 260.6,663.7 261.9,663.7 261.9,659.8 263.5,659.8 263.5,663.7 264.9,663.7 264.9,663.7 266.4,663.7 266.4,663.7 267.5,663.7 267.5,659.8 269,659.8 269,663.7 270.3,663.7 270.3,663.7 271.5,663.7 271.5,659.8 273.2,659.8 273.2,659.8 275,659.8 275,663.7 276.7,663.7 276.7,659.8 277.8,659.8 277.8,659.8 279.5,659.8 279.5,663.7 280.7,663.7 280.7,659.8 281.9,659.8 281.9,663.7 282.8,663.7 282.8,663.7 284.2,663.7 284.2,655.8 286,655.8 286,659.8 287,659.8 287,659.8 288.6,659.8 288.6,659.8 290,659.8 290,663.7 291.4,663.7 291.4,659.8 292.9,659.8 292.9,663.7 294.6,663.7 294.6,659.8 295.7,659.8 295.7,663.7 297.4,663.7 297.4,663.7 299.1,663.7 299.1,659.8 300.6,659.8 300.6,663.7" fill="none" stroke="#000" stroke-width="1.3"/>
<polyline points="320.5,663 321,663 321,659 321.5,659 322,659 322,658.4 322.5,658.4 323,658.4 323,663 323.5,663" fill="none" stroke="#000" stroke-width="1.3"/>
<path d="M14.2 160.6H20.2 M17.2 156.6H20.2 M17.2 152.7H20.2 M17.2 148.7H20.2 M17.2 144.8H20.2 M17.2 140.8H20.2 M14.2 136.8H20.2 M17.2 132.9H20.2 M17.2 128.9H20.2 M17.2 125H20.2 M17.2 121H20.2 M17.2 117H20.2 M14.2 113.1H20.2 M17.2 109.1H20.2 M17.2 105.2H20.2 M17.2 101.2H20.2 M17.2 97.2H20.2 M17.2 93.3H20.2 M14.2 89.3H20.2 M17.2 85.4H20.2 M17.2 81.4H20.2 M17.2 77.4H20.2 M17.2 73.5H20.2 M17.2 69.5H20.2 M14.2 65.6H20.2 M17.2 61.6H20.2 M17.2 57.6H20.2 M17.2 53.7H20.2 M17.2 49.7H20.2 M17.2 45.8H20.2 M14.2 41.8H20.2 M21.2 160.6V167.4 M30 160.6V164.4 M35.2 160.6V164.4 M38.9 160.6V164.4 M41.7 160.6V164.4 M44 160.6V164.4 M46 160.6V164.4 M47.7 160.6V164.4 M49.2 160.6V164.4 M50.5 160.6V167.4 M59.4 160.6V164.4 M64.6 160.6V164.4 M68.2 160.6V164.4 M71.1 160.6V164.4 M73.4 160.6V164.4 M75.4 160.6V164.4 M77.1 160.6V164.4 M78.6 160.6V164.4 M79.9 160.6V167.4 M88.7 160.6V164.4 M93.9 160.6V164.4 M97.6 160.6V164.4 M100.4 160.6V164.4 M102.7 160.6V164.4 M104.7 160.6V164.4 M106.4 160.6V164.4 M107.9 160.6V164.4 M109.2 160.6V167.4 M118.1 160.6V164.4 M123.3 160.6V164.4 M126.9 160.6V164.4 M129.8 160.6V164.4 M132.1 160.6V164.4 M134.1 160.6V164.4 M135.8 160.6V164.4 M137.3 160.6V164.4 M138.6 160.6V167.4" stroke="#000" stroke-width="1.3" fill="none"/>
<rect x="20.2" y="40.5" width="119.8" height="120.1" fill="none" stroke="#000" stroke-width="1.5"/>
<text transform="translate(12.08 181.57) scale(0.826 1)" font-size="12.99" font-weight="normal" stroke="#000" stroke-width="0.4">10</text>
<text transform="translate(25.10 174.28) scale(1.027 1)" font-size="12.43" font-weight="normal" stroke="#000" stroke-width="0.4">0</text>
<text transform="translate(128.11 181.77) scale(0.876 1)" font-size="13.28" font-weight="normal" stroke="#000" stroke-width="0.4">10</text>
<text transform="translate(142.25 174.80) scale(0.801 1)" font-size="13.37" font-weight="normal" stroke="#000" stroke-width="0.4">4</text>
<text transform="translate(9.77 50.99) rotate(-90) scale(0.851 1)" font-size="13.70" stroke="#000" stroke-width="0.4">100</text>
<text transform="translate(8.40 161.35) rotate(-90) scale(0.897 1)" font-size="10.03" stroke="#000" stroke-width="0.4">0</text>
<path d="M211.1 159.7H217.1 M214.1 155.7H217.1 M214.1 151.7H217.1 M214.1 147.7H217.1 M214.1 143.7H217.1 M211.1 139.7H217.1 M214.1 135.7H217.1 M214.1 131.7H217.1 M214.1 127.7H217.1 M214.1 123.7H217.1 M211.1 119.7H217.1 M214.1 115.7H217.1 M214.1 111.7H217.1 M214.1 107.7H217.1 M214.1 103.7H217.1 M211.1 99.7H217.1 M214.1 95.7H217.1 M214.1 91.7H217.1 M214.1 87.7H217.1 M214.1 83.7H217.1 M211.1 79.7H217.1 M214.1 75.7H217.1 M214.1 71.7H217.1 M214.1 67.7H217.1 M214.1 63.7H217.1 M211.1 59.7H217.1 M214.1 55.7H217.1 M214.1 51.7H217.1 M214.1 47.7H217.1 M214.1 43.7H217.1 M211.1 39.7H217.1 M218.1 159.7V166.5 M227 159.7V163.5 M232.2 159.7V163.5 M235.9 159.7V163.5 M238.7 159.7V163.5 M241.1 159.7V163.5 M243 159.7V163.5 M244.7 159.7V163.5 M246.3 159.7V163.5 M247.6 159.7V166.5 M256.5 159.7V163.5 M261.7 159.7V163.5 M265.4 159.7V163.5 M268.2 159.7V163.5 M270.6 159.7V163.5 M272.5 159.7V163.5 M274.2 159.7V163.5 M275.8 159.7V163.5 M277.1 159.7V166.5 M286 159.7V163.5 M291.2 159.7V163.5 M294.9 159.7V163.5 M297.7 159.7V163.5 M300.1 159.7V163.5 M302 159.7V163.5 M303.7 159.7V163.5 M305.3 159.7V163.5 M306.6 159.7V166.5 M315.5 159.7V163.5 M320.7 159.7V163.5 M324.4 159.7V163.5 M327.2 159.7V163.5 M329.6 159.7V163.5 M331.5 159.7V163.5 M333.2 159.7V163.5 M334.8 159.7V163.5 M336.1 159.7V166.5" stroke="#000" stroke-width="1.3" fill="none"/>
<rect x="217.1" y="38.4" width="120.4" height="121.3" fill="none" stroke="#000" stroke-width="1.5"/>
<text transform="translate(208.69 179.98) scale(0.846 1)" font-size="12.57" font-weight="normal" stroke="#000" stroke-width="0.4">10</text>
<text transform="translate(221.76 172.98) scale(0.919 1)" font-size="12.29" font-weight="normal" stroke="#000" stroke-width="0.4">0</text>
<text transform="translate(326.36 180.58) scale(0.878 1)" font-size="12.57" font-weight="normal" stroke="#000" stroke-width="0.4">10</text>
<text transform="translate(339.75 173.70) scale(0.844 1)" font-size="12.94" font-weight="normal" stroke="#000" stroke-width="0.4">4</text>
<text transform="translate(206.38 46.67) rotate(-90) scale(0.973 1)" font-size="12.71" stroke="#000" stroke-width="0.4">30</text>
<text transform="translate(205.78 161.15) rotate(-90) scale(0.852 1)" font-size="12.15" stroke="#000" stroke-width="0.4">0</text>
<path d="M381.4 159.6H387.4 M384.4 155.6H387.4 M384.4 151.6H387.4 M384.4 147.7H387.4 M384.4 143.7H387.4 M381.4 139.7H387.4 M384.4 135.7H387.4 M384.4 131.8H387.4 M384.4 127.8H387.4 M384.4 123.8H387.4 M381.4 119.8H387.4 M384.4 115.9H387.4 M384.4 111.9H387.4 M384.4 107.9H387.4 M384.4 103.9H387.4 M381.4 99.9H387.4 M384.4 96H387.4 M384.4 92H387.4 M384.4 88H387.4 M384.4 84H387.4 M381.4 80.1H387.4 M384.4 76.1H387.4 M384.4 72.1H387.4 M384.4 68.1H387.4 M384.4 64.2H387.4 M381.4 60.2H387.4 M384.4 56.2H387.4 M384.4 52.2H387.4 M384.4 48.3H387.4 M384.4 44.3H387.4 M381.4 40.3H387.4 M388.4 159.6V166.4 M397.2 159.6V163.4 M402.4 159.6V163.4 M406 159.6V163.4 M408.9 159.6V163.4 M411.2 159.6V163.4 M413.2 159.6V163.4 M414.9 159.6V163.4 M416.4 159.6V163.4 M417.7 159.6V166.4 M426.5 159.6V163.4 M431.7 159.6V163.4 M435.3 159.6V163.4 M438.2 159.6V163.4 M440.5 159.6V163.4 M442.5 159.6V163.4 M444.2 159.6V163.4 M445.7 159.6V163.4 M447 159.6V166.4 M455.8 159.6V163.4 M461 159.6V163.4 M464.6 159.6V163.4 M467.5 159.6V163.4 M469.8 159.6V163.4 M471.8 159.6V163.4 M473.5 159.6V163.4 M475 159.6V163.4 M476.3 159.6V166.4 M485.1 159.6V163.4 M490.3 159.6V163.4 M493.9 159.6V163.4 M496.8 159.6V163.4 M499.1 159.6V163.4 M501.1 159.6V163.4 M502.8 159.6V163.4 M504.3 159.6V163.4 M505.6 159.6V166.4" stroke="#000" stroke-width="1.3" fill="none"/>
<rect x="387.4" y="39" width="119.6" height="120.6" fill="none" stroke="#000" stroke-width="1.5"/>
<text transform="translate(378.99 179.88) scale(0.846 1)" font-size="12.57" font-weight="normal" stroke="#000" stroke-width="0.4">10</text>
<text transform="translate(392.06 172.88) scale(0.919 1)" font-size="12.29" font-weight="normal" stroke="#000" stroke-width="0.4">0</text>
<text transform="translate(495.86 180.48) scale(0.878 1)" font-size="12.57" font-weight="normal" stroke="#000" stroke-width="0.4">10</text>
<text transform="translate(509.25 173.60) scale(0.844 1)" font-size="12.94" font-weight="normal" stroke="#000" stroke-width="0.4">4</text>
<text transform="translate(376.68 47.27) rotate(-90) scale(0.973 1)" font-size="12.71" stroke="#000" stroke-width="0.4">30</text>
<text transform="translate(376.08 161.05) rotate(-90) scale(0.852 1)" font-size="12.15" stroke="#000" stroke-width="0.4">0</text>
<path d="M209.1 331.4H215.1 M212.1 327.4H215.1 M212.1 323.4H215.1 M212.1 319.3H215.1 M212.1 315.3H215.1 M209.1 311.3H215.1 M212.1 307.3H215.1 M212.1 303.2H215.1 M212.1 299.2H215.1 M212.1 295.2H215.1 M209.1 291.2H215.1 M212.1 287.1H215.1 M212.1 283.1H215.1 M212.1 279.1H215.1 M212.1 275.1H215.1 M209.1 271.1H215.1 M212.1 267H215.1 M212.1 263H215.1 M212.1 259H215.1 M212.1 255H215.1 M209.1 250.9H215.1 M212.1 246.9H215.1 M212.1 242.9H215.1 M212.1 238.9H215.1 M212.1 234.8H215.1 M209.1 230.8H215.1 M212.1 226.8H215.1 M212.1 222.8H215.1 M212.1 218.7H215.1 M212.1 214.7H215.1 M209.1 210.7H215.1 M216.1 331.4V338.2 M224.9 331.4V335.2 M230 331.4V335.2 M233.7 331.4V335.2 M236.5 331.4V335.2 M238.8 331.4V335.2 M240.7 331.4V335.2 M242.4 331.4V335.2 M243.9 331.4V335.2 M245.2 331.4V338.2 M254 331.4V335.2 M259.2 331.4V335.2 M262.8 331.4V335.2 M265.6 331.4V335.2 M267.9 331.4V335.2 M269.9 331.4V335.2 M271.6 331.4V335.2 M273.1 331.4V335.2 M274.4 331.4V338.2 M283.2 331.4V335.2 M288.3 331.4V335.2 M292 331.4V335.2 M294.8 331.4V335.2 M297.1 331.4V335.2 M299 331.4V335.2 M300.7 331.4V335.2 M302.2 331.4V335.2 M303.6 331.4V338.2 M312.3 331.4V335.2 M317.5 331.4V335.2 M321.1 331.4V335.2 M323.9 331.4V335.2 M326.2 331.4V335.2 M328.2 331.4V335.2 M329.9 331.4V335.2 M331.4 331.4V335.2 M332.7 331.4V338.2" stroke="#000" stroke-width="1.3" fill="none"/>
<rect x="215.1" y="209.4" width="119" height="122" fill="none" stroke="#000" stroke-width="1.5"/>
<text transform="translate(206.69 351.68) scale(0.846 1)" font-size="12.57" font-weight="normal" stroke="#000" stroke-width="0.4">10</text>
<text transform="translate(219.76 344.68) scale(0.919 1)" font-size="12.29" font-weight="normal" stroke="#000" stroke-width="0.4">0</text>
<text transform="translate(322.96 352.28) scale(0.878 1)" font-size="12.57" font-weight="normal" stroke="#000" stroke-width="0.4">10</text>
<text transform="translate(336.35 345.40) scale(0.844 1)" font-size="12.94" font-weight="normal" stroke="#000" stroke-width="0.4">4</text>
<text transform="translate(204.38 217.67) rotate(-90) scale(0.973 1)" font-size="12.71" stroke="#000" stroke-width="0.4">30</text>
<text transform="translate(203.78 332.85) rotate(-90) scale(0.852 1)" font-size="12.15" stroke="#000" stroke-width="0.4">0</text>
<path d="M380.6 331.2H386.6 M383.6 327.2H386.6 M383.6 323.3H386.6 M383.6 319.3H386.6 M383.6 315.3H386.6 M380.6 311.3H386.6 M383.6 307.4H386.6 M383.6 303.4H386.6 M383.6 299.4H386.6 M383.6 295.4H386.6 M380.6 291.5H386.6 M383.6 287.5H386.6 M383.6 283.5H386.6 M383.6 279.5H386.6 M383.6 275.6H386.6 M380.6 271.6H386.6 M383.6 267.6H386.6 M383.6 263.7H386.6 M383.6 259.7H386.6 M383.6 255.7H386.6 M380.6 251.7H386.6 M383.6 247.8H386.6 M383.6 243.8H386.6 M383.6 239.8H386.6 M383.6 235.8H386.6 M380.6 231.9H386.6 M383.6 227.9H386.6 M383.6 223.9H386.6 M383.6 219.9H386.6 M383.6 216H386.6 M380.6 212H386.6 M387.6 331.2V338 M396.5 331.2V335 M401.8 331.2V335 M405.5 331.2V335 M408.4 331.2V335 M410.7 331.2V335 M412.7 331.2V335 M414.4 331.2V335 M416 331.2V335 M417.3 331.2V338 M426.3 331.2V335 M431.5 331.2V335 M435.2 331.2V335 M438.1 331.2V335 M440.5 331.2V335 M442.4 331.2V335 M444.2 331.2V335 M445.7 331.2V335 M447.1 331.2V338 M456 331.2V335 M461.2 331.2V335 M464.9 331.2V335 M467.8 331.2V335 M470.2 331.2V335 M472.2 331.2V335 M473.9 331.2V335 M475.4 331.2V335 M476.8 331.2V338 M485.7 331.2V335 M491 331.2V335 M494.7 331.2V335 M497.6 331.2V335 M499.9 331.2V335 M501.9 331.2V335 M503.6 331.2V335 M505.1 331.2V335 M506.5 331.2V338" stroke="#000" stroke-width="1.3" fill="none"/>
<rect x="386.6" y="210.7" width="121.3" height="120.5" fill="none" stroke="#000" stroke-width="1.5"/>
<text transform="translate(378.19 351.48) scale(0.846 1)" font-size="12.57" font-weight="normal" stroke="#000" stroke-width="0.4">10</text>
<text transform="translate(391.26 344.48) scale(0.919 1)" font-size="12.29" font-weight="normal" stroke="#000" stroke-width="0.4">0</text>
<text transform="translate(496.76 352.08) scale(0.878 1)" font-size="12.57" font-weight="normal" stroke="#000" stroke-width="0.4">10</text>
<text transform="translate(510.15 345.20) scale(0.844 1)" font-size="12.94" font-weight="normal" stroke="#000" stroke-width="0.4">4</text>
<text transform="translate(375.88 218.97) rotate(-90) scale(0.973 1)" font-size="12.71" stroke="#000" stroke-width="0.4">30</text>
<text transform="translate(375.28 332.65) rotate(-90) scale(0.852 1)" font-size="12.15" stroke="#000" stroke-width="0.4">0</text>
<path d="M210.5 497.4H216.5 M213.5 493.4H216.5 M213.5 489.5H216.5 M213.5 485.5H216.5 M213.5 481.6H216.5 M210.5 477.6H216.5 M213.5 473.7H216.5 M213.5 469.7H216.5 M213.5 465.8H216.5 M213.5 461.8H216.5 M210.5 457.9H216.5 M213.5 453.9H216.5 M213.5 450H216.5 M213.5 446H216.5 M213.5 442.1H216.5 M210.5 438.1H216.5 M213.5 434.1H216.5 M213.5 430.2H216.5 M213.5 426.2H216.5 M213.5 422.3H216.5 M210.5 418.3H216.5 M213.5 414.4H216.5 M213.5 410.4H216.5 M213.5 406.5H216.5 M213.5 402.5H216.5 M210.5 398.6H216.5 M213.5 394.6H216.5 M213.5 390.7H216.5 M213.5 386.7H216.5 M213.5 382.8H216.5 M210.5 378.8H216.5 M217.5 497.4V504.2 M226.3 497.4V501.2 M231.4 497.4V501.2 M235 497.4V501.2 M237.8 497.4V501.2 M240.1 497.4V501.2 M242.1 497.4V501.2 M243.8 497.4V501.2 M245.2 497.4V501.2 M246.6 497.4V504.2 M255.3 497.4V501.2 M260.4 497.4V501.2 M264.1 497.4V501.2 M266.9 497.4V501.2 M269.2 497.4V501.2 M271.1 497.4V501.2 M272.8 497.4V501.2 M274.3 497.4V501.2 M275.6 497.4V504.2 M284.4 497.4V501.2 M289.5 497.4V501.2 M293.2 497.4V501.2 M296 497.4V501.2 M298.3 497.4V501.2 M300.2 497.4V501.2 M301.9 497.4V501.2 M303.4 497.4V501.2 M304.7 497.4V504.2 M313.5 497.4V501.2 M318.6 497.4V501.2 M322.2 497.4V501.2 M325 497.4V501.2 M327.3 497.4V501.2 M329.3 497.4V501.2 M331 497.4V501.2 M332.5 497.4V501.2 M333.8 497.4V504.2" stroke="#000" stroke-width="1.3" fill="none"/>
<rect x="216.5" y="377.5" width="118.7" height="119.9" fill="none" stroke="#000" stroke-width="1.5"/>
<text transform="translate(208.09 517.68) scale(0.846 1)" font-size="12.57" font-weight="normal" stroke="#000" stroke-width="0.4">10</text>
<text transform="translate(221.16 510.68) scale(0.919 1)" font-size="12.29" font-weight="normal" stroke="#000" stroke-width="0.4">0</text>
<text transform="translate(324.06 518.28) scale(0.878 1)" font-size="12.57" font-weight="normal" stroke="#000" stroke-width="0.4">10</text>
<text transform="translate(337.45 511.40) scale(0.844 1)" font-size="12.94" font-weight="normal" stroke="#000" stroke-width="0.4">4</text>
<text transform="translate(205.78 385.77) rotate(-90) scale(0.973 1)" font-size="12.71" stroke="#000" stroke-width="0.4">30</text>
<text transform="translate(205.18 498.85) rotate(-90) scale(0.852 1)" font-size="12.15" stroke="#000" stroke-width="0.4">0</text>
<path d="M381.3 496.2H387.3 M384.3 492.3H387.3 M384.3 488.3H387.3 M384.3 484.4H387.3 M384.3 480.5H387.3 M381.3 476.5H387.3 M384.3 472.6H387.3 M384.3 468.7H387.3 M384.3 464.7H387.3 M384.3 460.8H387.3 M381.3 456.9H387.3 M384.3 452.9H387.3 M384.3 449H387.3 M384.3 445.1H387.3 M384.3 441.1H387.3 M381.3 437.2H387.3 M384.3 433.3H387.3 M384.3 429.3H387.3 M384.3 425.4H387.3 M384.3 421.5H387.3 M381.3 417.5H387.3 M384.3 413.6H387.3 M384.3 409.7H387.3 M384.3 405.7H387.3 M384.3 401.8H387.3 M381.3 397.9H387.3 M384.3 393.9H387.3 M384.3 390H387.3 M384.3 386.1H387.3 M384.3 382.1H387.3 M381.3 378.2H387.3 M388.3 496.2V503 M397.1 496.2V500 M402.2 496.2V500 M405.9 496.2V500 M408.7 496.2V500 M411 496.2V500 M412.9 496.2V500 M414.6 496.2V500 M416.1 496.2V500 M417.5 496.2V503 M426.2 496.2V500 M431.4 496.2V500 M435 496.2V500 M437.8 496.2V500 M440.1 496.2V500 M442.1 496.2V500 M443.8 496.2V500 M445.3 496.2V500 M446.6 496.2V503 M455.4 496.2V500 M460.5 496.2V500 M464.2 496.2V500 M467 496.2V500 M469.3 496.2V500 M471.2 496.2V500 M472.9 496.2V500 M474.4 496.2V500 M475.8 496.2V503 M484.5 496.2V500 M489.7 496.2V500 M493.3 496.2V500 M496.1 496.2V500 M498.4 496.2V500 M500.4 496.2V500 M502.1 496.2V500 M503.6 496.2V500 M504.9 496.2V503" stroke="#000" stroke-width="1.3" fill="none"/>
<rect x="387.3" y="376.9" width="119" height="119.3" fill="none" stroke="#000" stroke-width="1.5"/>
<text transform="translate(378.89 516.48) scale(0.846 1)" font-size="12.57" font-weight="normal" stroke="#000" stroke-width="0.4">10</text>
<text transform="translate(391.96 509.48) scale(0.919 1)" font-size="12.29" font-weight="normal" stroke="#000" stroke-width="0.4">0</text>
<text transform="translate(495.16 517.08) scale(0.878 1)" font-size="12.57" font-weight="normal" stroke="#000" stroke-width="0.4">10</text>
<text transform="translate(508.55 510.20) scale(0.844 1)" font-size="12.94" font-weight="normal" stroke="#000" stroke-width="0.4">4</text>
<text transform="translate(376.58 385.17) rotate(-90) scale(0.973 1)" font-size="12.71" stroke="#000" stroke-width="0.4">30</text>
<text transform="translate(375.98 497.65) rotate(-90) scale(0.852 1)" font-size="12.15" stroke="#000" stroke-width="0.4">0</text>
<path d="M209.6 663.7H215.6 M212.6 659.8H215.6 M212.6 655.9H215.6 M212.6 652H215.6 M212.6 648H215.6 M209.6 644.1H215.6 M212.6 640.2H215.6 M212.6 636.3H215.6 M212.6 632.4H215.6 M212.6 628.5H215.6 M209.6 624.6H215.6 M212.6 620.7H215.6 M212.6 616.7H215.6 M212.6 612.8H215.6 M212.6 608.9H215.6 M209.6 605H215.6 M212.6 601.1H215.6 M212.6 597.2H215.6 M212.6 593.3H215.6 M212.6 589.3H215.6 M209.6 585.4H215.6 M212.6 581.5H215.6 M212.6 577.6H215.6 M212.6 573.7H215.6 M212.6 569.8H215.6 M209.6 565.9H215.6 M212.6 562H215.6 M212.6 558H215.6 M212.6 554.1H215.6 M212.6 550.2H215.6 M209.6 546.3H215.6 M216.6 663.7V670.5 M225.4 663.7V667.5 M230.5 663.7V667.5 M234.2 663.7V667.5 M237 663.7V667.5 M239.3 663.7V667.5 M241.3 663.7V667.5 M242.9 663.7V667.5 M244.4 663.7V667.5 M245.8 663.7V670.5 M254.6 663.7V667.5 M259.7 663.7V667.5 M263.3 663.7V667.5 M266.2 663.7V667.5 M268.5 663.7V667.5 M270.4 663.7V667.5 M272.1 663.7V667.5 M273.6 663.7V667.5 M274.9 663.7V670.5 M283.7 663.7V667.5 M288.9 663.7V667.5 M292.5 663.7V667.5 M295.3 663.7V667.5 M297.7 663.7V667.5 M299.6 663.7V667.5 M301.3 663.7V667.5 M302.8 663.7V667.5 M304.1 663.7V670.5 M312.9 663.7V667.5 M318 663.7V667.5 M321.7 663.7V667.5 M324.5 663.7V667.5 M326.8 663.7V667.5 M328.8 663.7V667.5 M330.5 663.7V667.5 M332 663.7V667.5 M333.3 663.7V670.5" stroke="#000" stroke-width="1.3" fill="none"/>
<rect x="215.6" y="545" width="119.1" height="118.7" fill="none" stroke="#000" stroke-width="1.5"/>
<text transform="translate(207.19 683.98) scale(0.846 1)" font-size="12.57" font-weight="normal" stroke="#000" stroke-width="0.4">10</text>
<text transform="translate(220.26 676.98) scale(0.919 1)" font-size="12.29" font-weight="normal" stroke="#000" stroke-width="0.4">0</text>
<text transform="translate(323.56 684.58) scale(0.878 1)" font-size="12.57" font-weight="normal" stroke="#000" stroke-width="0.4">10</text>
<text transform="translate(336.95 677.70) scale(0.844 1)" font-size="12.94" font-weight="normal" stroke="#000" stroke-width="0.4">4</text>
<text transform="translate(204.88 553.27) rotate(-90) scale(0.973 1)" font-size="12.71" stroke="#000" stroke-width="0.4">30</text>
<text transform="translate(204.28 665.15) rotate(-90) scale(0.852 1)" font-size="12.15" stroke="#000" stroke-width="0.4">0</text>
<path d="M182.1 583.8V522" stroke="#6a6a6a" stroke-width="1.5"/>
<path d="M182.2 513.3L187.7 525.4L182.2 523.2L177.1 525.4Z" fill="#000"/>
<text transform="translate(189.03 651.02) rotate(-90) scale(1.036 1)" font-size="17.51" stroke="#000" stroke-width="0.4">Counts</text>
</svg>
</body></html>
